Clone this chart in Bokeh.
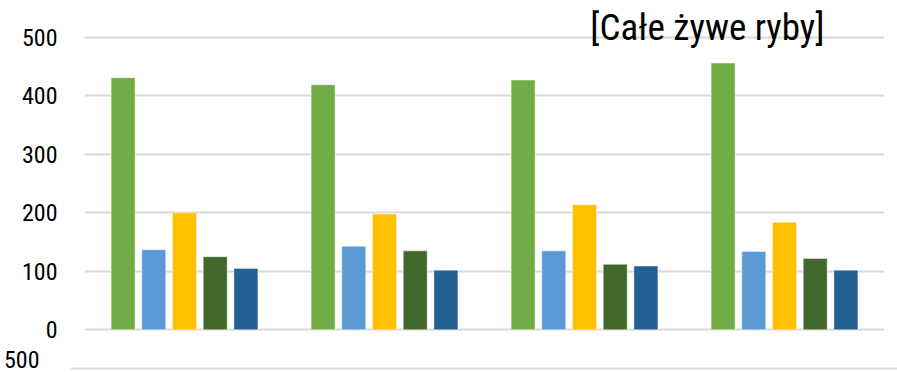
from bokeh.plotting import figure
from bokeh.models import Range1d, FixedTicker, Label, ColumnDataSource
from bokeh.layouts import column, row
from bokeh.embed import file_html
from bokeh.resources import INLINE

# ---- data ----
groups = ["G1", "G2", "G3", "G4"]
series_names = ["S1", "S2", "S3", "S4", "S5"]
s1 = [431, 419, 427, 456]
s2 = [137, 143, 135, 134]
s3 = [200, 198, 214, 184]
s4 = [125, 135, 112, 122]
s5 = [105, 102, 109, 102]
colors = ["#70AD47", "#5B9BD5", "#FFC000", "#43682B", "#255E91"]
y_ticks = [0, 100, 200, 300, 400, 500]
title_text = "[Całe żywe ryby]"

FONT = "Roboto Condensed, Roboto"

p = figure(width=889, height=346, output_backend="svg", toolbar_location=None,
           x_range=Range1d(0, 4), y_range=Range1d(-8, 563),
           min_border_left=84, min_border_right=5, min_border_top=0, min_border_bottom=12)
p.outline_line_color = None
p.background_fill_color = "white"
p.border_fill_color = "white"

step = 0.1535
bw = 0.12
for k, vals in enumerate([s1, s2, s3, s4, s5]):
    xs = [i + 0.5 + (k - 2) * step for i in range(len(groups))]
    src = ColumnDataSource(dict(x=xs, top=vals))
    p.vbar(x="x", top="top", bottom=0, width=bw, source=src,
           fill_color=colors[k], line_color="white", line_alpha=0.45, line_width=1)

p.xaxis.visible = False
p.xgrid.visible = False
p.yaxis.ticker = FixedTicker(ticks=y_ticks)
p.yaxis.axis_line_color = None
p.yaxis.major_tick_line_color = None
p.yaxis.minor_tick_line_color = None
p.yaxis.major_label_text_font = FONT
p.yaxis.major_label_text_font_size = "24px"
p.yaxis.major_label_text_color = "#000000"
p.yaxis.major_label_standoff = 21
p.ygrid.ticker = FixedTicker(ticks=y_ticks)
p.ygrid.grid_line_color = "#D9D9D9"
p.ygrid.grid_line_width = 2

p.add_layout(Label(x=3.7, y=517, text=title_text, text_align="right",
                   text_baseline="alphabetic", text_font=FONT,
                   text_font_size="37px", text_color="#000000"))

# second chart (top edge only visible)
p2 = figure(width=897, height=26, output_backend="svg", toolbar_location=None,
            x_range=Range1d(0, 4), y_range=Range1d(496, 522),
            min_border_left=70, min_border_right=0, min_border_top=0, min_border_bottom=0)
p2.outline_line_color = None
p2.xaxis.visible = False
p2.xgrid.visible = False
p2.yaxis.ticker = FixedTicker(ticks=y_ticks)
p2.yaxis.axis_line_color = None
p2.yaxis.major_tick_line_color = None
p2.yaxis.minor_tick_line_color = None
p2.yaxis.major_label_text_font = FONT
p2.yaxis.major_label_text_font_size = "24px"
p2.yaxis.major_label_text_color = "#000000"
p2.yaxis.major_label_standoff = 25
p2.ygrid.ticker = FixedTicker(ticks=y_ticks)
p2.ygrid.grid_line_color = "#D9D9D9"
p2.ygrid.grid_line_width = 2

layout = column(p, row(p2), spacing=0)
open("out.html", "w").write(file_html(layout, INLINE))
